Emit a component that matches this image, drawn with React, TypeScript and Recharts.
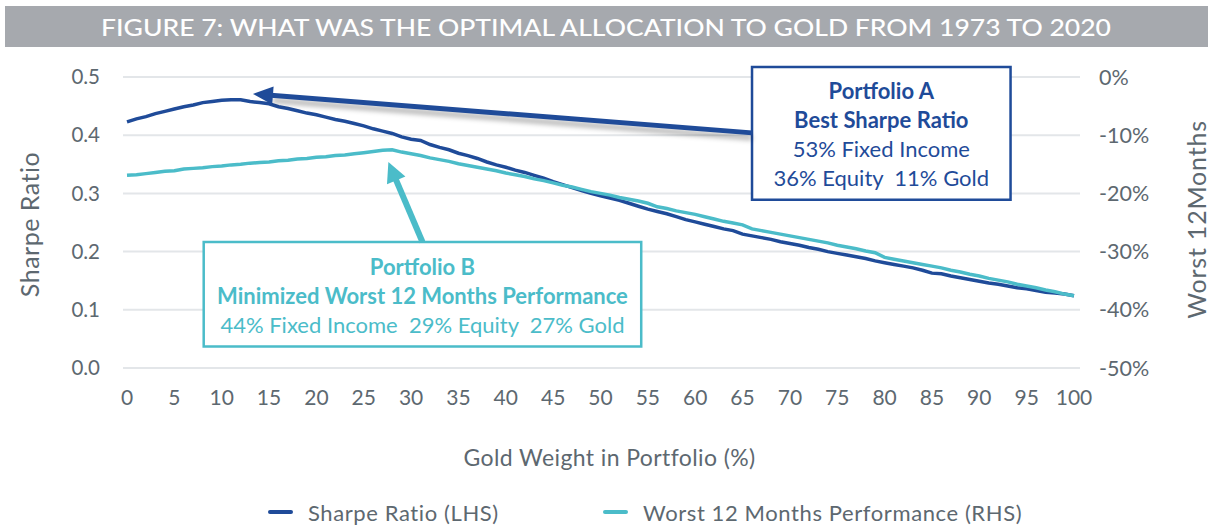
import {
  CartesianGrid,
  Legend,
  Line,
  LineChart,
  ReferenceArea,
  ReferenceLine,
  XAxis,
  YAxis,
} from "recharts";

const goldWeight = [
  0, 1, 2, 3, 4, 5, 6, 7, 8, 9, 10, 11, 12, 13, 14, 15, 16, 17, 18, 19, 20,
  21, 22, 23, 24, 25, 26, 27, 28, 29, 30, 31, 32, 33, 34, 35, 36, 37, 38, 39, 40,
  41, 42, 43, 44, 45, 46, 47, 48, 49, 50, 51, 52, 53, 54, 55, 56, 57, 58, 59, 60,
  61, 62, 63, 64, 65, 66, 67, 68, 69, 70, 71, 72, 73, 74, 75, 76, 77, 78, 79, 80,
  81, 82, 83, 84, 85, 86, 87, 88, 89, 90, 91, 92, 93, 94, 95, 96, 97, 98, 99, 100,
];

const sharpeRatio = [
  0.423, 0.428, 0.432, 0.437, 0.441, 0.445, 0.449, 0.452, 0.456, 0.458, 0.46,
  0.461, 0.461, 0.458, 0.456, 0.454, 0.449, 0.446, 0.442, 0.438, 0.435,
  0.431, 0.427, 0.424, 0.42, 0.416, 0.411, 0.407, 0.403, 0.397, 0.393,
  0.391, 0.384, 0.379, 0.375, 0.369, 0.365, 0.36, 0.354, 0.349, 0.345,
  0.34, 0.336, 0.331, 0.326, 0.32, 0.315, 0.31, 0.305, 0.3, 0.296,
  0.292, 0.288, 0.283, 0.278, 0.273, 0.269, 0.265, 0.26, 0.255, 0.251,
  0.247, 0.243, 0.239, 0.236, 0.23, 0.227, 0.224, 0.221, 0.217, 0.214,
  0.211, 0.207, 0.204, 0.2, 0.197, 0.194, 0.191, 0.188, 0.184, 0.181,
  0.178, 0.175, 0.172, 0.168, 0.163, 0.162, 0.158, 0.155, 0.152, 0.149,
  0.146, 0.144, 0.141, 0.138, 0.136, 0.133, 0.13, 0.129, 0.127, 0.124,
];

// worst rolling 12 month return, in %
const worst12m = [
  -16.9, -16.8, -16.6, -16.4, -16.2, -16.1, -15.8, -15.7, -15.6, -15.4, -15.3,
  -15.1, -15.0, -14.8, -14.7, -14.6, -14.4, -14.3, -14.1, -14.0, -13.8,
  -13.7, -13.5, -13.4, -13.2, -13.0, -12.8, -12.6, -12.5, -12.9, -13.2,
  -13.5, -13.9, -14.2, -14.5, -14.9, -15.2, -15.5, -15.8, -16.1, -16.5,
  -16.8, -17.1, -17.5, -17.8, -18.2, -18.6, -18.9, -19.3, -19.7, -20.0,
  -20.3, -20.7, -21.0, -21.3, -21.7, -22.3, -22.6, -23.0, -23.3, -23.6,
  -24.0, -24.4, -24.8, -25.1, -25.4, -26.1, -26.4, -26.7, -27.0, -27.3,
  -27.6, -27.9, -28.2, -28.5, -28.9, -29.2, -29.5, -29.9, -30.2, -31.0,
  -31.3, -31.6, -31.9, -32.2, -32.5, -32.8, -33.2, -33.5, -33.9, -34.2,
  -34.6, -34.9, -35.2, -35.6, -35.9, -36.2, -36.6, -36.9, -37.3, -37.6,
];

const xTicks = [0, 5, 10, 15, 20, 25, 30, 35, 40, 45, 50, 55, 60, 65, 70, 75, 80, 85, 90, 95, 100];
const leftTicks = [0, 0.1, 0.2, 0.3, 0.4, 0.5];
const rightTicks = [-50, -40, -30, -20, -10, 0];

const boxALines = ["Portfolio A", "Best Sharpe Ratio", "53% Fixed Income", "36% Equity  11% Gold"];
const boxBLines = ["Portfolio B", "Minimized Worst 12 Months Performance", "44% Fixed Income  29% Equity  27% Gold"];

const DARK = "#1f4b99";
const TEAL = "#4bbcc9";
const TEXT = "#5d6870";
const FONT = "Lato, 'Open Sans', sans-serif";

const chartData = goldWeight.map((g, i) => ({
  gold: g,
  sharpe: sharpeRatio[i],
  worst: worst12m[i],
}));

const arrowShape =
  (color: string, width: number, headLen: number, headW: number, shadow: boolean) =>
  (props: any) => {
    const { x1, y1, x2, y2 } = props;
    const dx = x2 - x1;
    const dy = y2 - y1;
    const len = Math.hypot(dx, dy) || 1;
    const ux = dx / len;
    const uy = dy / len;
    const px = -uy;
    const py = ux;
    const bx = x2 - ux * headLen;
    const by = y2 - uy * headLen;
    const pts = `${x2},${y2} ${bx + (px * headW) / 2},${by + (py * headW) / 2} ${bx - (px * headW) / 2},${by - (py * headW) / 2}`;
    return (
      <g>
        {shadow && (
          <g>
            <defs>
              <filter id="arrowBlur" x="-10%" y="-100%" width="120%" height="300%">
                <feGaussianBlur stdDeviation="2.5" />
              </filter>
            </defs>
            <line
              x1={x1}
              y1={y1 + 5}
              x2={bx}
              y2={by + 5}
              stroke="#000"
              strokeOpacity={0.3}
              strokeWidth={width}
              filter="url(#arrowBlur)"
            />
          </g>
        )}
        <line x1={x1} y1={y1} x2={bx + ux * 2} y2={by + uy * 2} stroke={color} strokeWidth={width} />
        <polygon points={pts} fill={color} />
      </g>
    );
  };

const boxLabel = (lines: string[], color: string, boldCount: number, firstOffset: number) => (props: any) => {
  const vb = props.viewBox || {};
  const cx = vb.x + vb.width / 2;
  return (
    <g>
      {lines.map((t, i) => (
        <text
          key={t}
          x={cx}
          y={vb.y + firstOffset + i * 29}
          textAnchor="middle"
          dominantBaseline="central"
          fill={color}
          fontFamily={FONT}
          fontSize={22}
          fontWeight={i < boldCount ? 700 : 400}
          style={{ whiteSpace: "pre" }}
        >
          {t}
        </text>
      ))}
    </g>
  );
};

const renderLegend = (props: any) => {
  const items = props.payload || [];
  return (
    <div style={{ display: "flex", alignItems: "center", paddingLeft: 268, height: 26 }}>
      {items.map((it: any, i: number) => (
        <div key={it.value} style={{ display: "flex", alignItems: "center", width: i === 0 ? 335 : 430 }}>
          <div style={{ width: 25, height: 4, background: it.color, borderRadius: 2, marginRight: 15 }} />
          <span style={{ fontFamily: FONT, fontSize: 22, letterSpacing: 0.6, color: TEXT, whiteSpace: "nowrap" }}>
            {it.value}
          </span>
        </div>
      ))}
    </div>
  );
};

const App = () => {
  return (
    <div style={{ position: "relative", width: 1213, height: 525, background: "#fff" }}>
      <style>{`body{margin:0}`}</style>
      <svg width={1213} height={50} style={{ position: "absolute", left: 0, top: 0 }}>
        <rect x={5} y={6} width={1203} height={41} fill="#a6a9ae" />
        <text
          x={606}
          y={27}
          textAnchor="middle"
          dominantBaseline="central"
          fill="#fff"
          fontFamily={FONT}
          fontSize={23}
          fontWeight={500}
          textLength={1010}
          lengthAdjust="spacingAndGlyphs"
        >
          FIGURE 7: WHAT WAS THE OPTIMAL ALLOCATION TO GOLD FROM 1973 TO 2020
        </text>
      </svg>
      <LineChart
        width={1213}
        height={525}
        data={chartData}
        margin={{ top: 77, right: 0, left: 0, bottom: 0 }}
        style={{ position: "absolute", left: 0, top: 0 }}
      >
        <CartesianGrid vertical={false} yAxisId="left" stroke="#e3e6e9" strokeWidth={2} />
        <XAxis
          dataKey="gold"
          type="number"
          domain={[0, 100]}
          ticks={xTicks}
          interval={0}
          padding={{ left: 4, right: 6 }}
          axisLine={false}
          tickLine={false}
          tickSize={0}
          tickMargin={22}
          height={131}
          tick={{ fill: TEXT, fontSize: 21, fontFamily: FONT }}
          label={{
            content: (p: any) => (
              <text
                x={p.viewBox.x + p.viewBox.width / 2 + 8}
                y={p.viewBox.y + 89}
                textAnchor="middle"
                dominantBaseline="central"
                fill={TEXT}
                fontSize={23}
                letterSpacing={0.4}
                fontFamily={FONT}
              >
                Gold Weight in Portfolio (%)
              </text>
            ),
          }}
        />
        <YAxis
          yAxisId="left"
          domain={[0, 0.5]}
          ticks={leftTicks}
          width={123}
          axisLine={false}
          tickLine={false}
          tickSize={0}
          tickMargin={23}
          tickFormatter={(v: number) => v.toFixed(1)}
          tick={{ fill: TEXT, fontSize: 20.5, fontFamily: FONT }}
          label={{
            content: (p: any) => {
              const x = p.viewBox.x + 29;
              const y = p.viewBox.y + p.viewBox.height / 2 + 2;
              return (
                <text
                  x={x}
                  y={y}
                  transform={`rotate(-90, ${x}, ${y})`}
                  textAnchor="middle"
                  dominantBaseline="central"
                  fill={TEXT}
                  fontSize={25}
                  letterSpacing={0.5}
                  fontFamily={FONT}
                >
                  Sharpe Ratio
                </text>
              );
            },
          }}
        />
        <YAxis
          yAxisId="right"
          orientation="right"
          domain={[-50, 0]}
          ticks={rightTicks}
          width={133}
          axisLine={false}
          tickLine={false}
          tickSize={0}
          tickMargin={19}
          tickFormatter={(v: number) => `${v}%`}
          tick={{ fill: TEXT, fontSize: 21.5, fontFamily: FONT }}
          label={{
            content: (p: any) => {
              const x = p.viewBox.x + 116;
              const y = p.viewBox.y + p.viewBox.height / 2 - 3;
              return (
                <text
                  x={x}
                  y={y}
                  transform={`rotate(-90, ${x}, ${y})`}
                  textAnchor="middle"
                  dominantBaseline="central"
                  fill={TEXT}
                  fontSize={25}
                  letterSpacing={0.8}
                  fontFamily={FONT}
                >
                  Worst 12Months
                </text>
              );
            },
          }}
        />
        <Line
          yAxisId="left"
          dataKey="sharpe"
          name="Sharpe Ratio (LHS)"
          stroke={DARK}
          strokeWidth={3.5}
          dot={false}
          type="linear"
          isAnimationActive={false}
        />
        <Line
          yAxisId="right"
          dataKey="worst"
          name="Worst 12 Months Performance (RHS)"
          stroke={TEAL}
          strokeWidth={3.5}
          dot={false}
          type="linear"
          isAnimationActive={false}
        />
        <ReferenceArea
          yAxisId="left"
          x1={66}
          x2={93.3}
          y1={0.289}
          y2={0.517}
          ifOverflow="visible"
          fill="#fff"
          fillOpacity={1}
          stroke={DARK}
          strokeWidth={2.5}
          label={boxLabel(boxALines, DARK, 2, 23)}
        />
        <ReferenceArea
          yAxisId="left"
          x1={8.1}
          x2={54.3}
          y1={0.037}
          y2={0.2165}
          ifOverflow="visible"
          fill="#fff"
          fillOpacity={1}
          stroke={TEAL}
          strokeWidth={2.5}
          label={boxLabel(boxBLines, TEAL, 2, 25)}
        />
        <ReferenceLine
          yAxisId="left"
          segment={[
            { x: 66, y: 0.404 },
            { x: 13.3, y: 0.471 },
          ]}
          ifOverflow="visible"
          shape={arrowShape(DARK, 5, 20, 18, true)}
        />
        <ReferenceLine
          yAxisId="left"
          segment={[
            { x: 31.2, y: 0.2165 },
            { x: 27.6, y: 0.354 },
          ]}
          ifOverflow="visible"
          shape={arrowShape(TEAL, 6, 20, 20, false)}
        />
        <Legend
          verticalAlign="bottom"
          height={26}
          content={renderLegend}
          wrapperStyle={{ left: 0, bottom: 0, width: 1213, height: 26 }}
        />
      </LineChart>
    </div>
  );
};

export default App;
